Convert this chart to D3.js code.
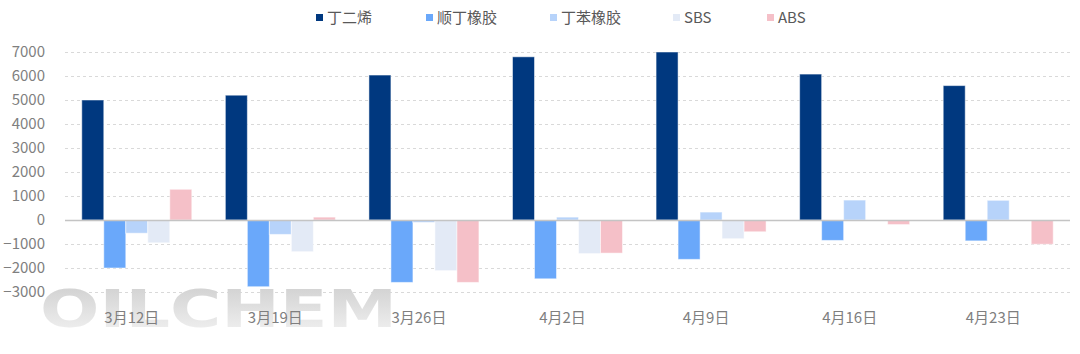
<!DOCTYPE html>
<html>
<head>
<meta charset="utf-8">
<script src="https://cdn.jsdelivr.net/npm/d3@7"></script>
<style>
  body { margin: 0; background: #fff; }
  svg text { font-family: "Noto Sans CJK SC", "Noto Sans", sans-serif; }
</style>
</head>
<body>
<svg id="chart"></svg>
<script>
// data
const categories = ["3月12日", "3月19日", "3月26日", "4月2日", "4月9日", "4月16日", "4月23日"];
const seriesNames = ["丁二烯", "顺丁橡胶", "丁苯橡胶", "SBS", "ABS"];
const butadiene = [5000, 5200, 6040, 6800, 7000, 6080, 5600];
const brRubber  = [-2000, -2780, -2600, -2450, -1640, -850, -870];
const sbrRubber = [-550, -600, -100, 120, 330, 830, 820];
const sbs       = [-950, -1320, -2110, -1400, -780, -10, 0];
const abs       = [1280, 120, -2600, -1380, -490, -190, -1010];
const yTicks = [7000, 6000, 5000, 4000, 3000, 2000, 1000, 0, -1000, -2000, -3000];
const colors = ["#00387f", "#6aa8fa", "#b7d3fa", "#e3eaf6", "#f5c0c8"];

const seriesValues = [butadiene, brRubber, sbrRubber, sbs, abs];
const dataset = categories.map((c, i) => ({
  cat: c,
  values: seriesNames.map((s, j) => ({ key: s, value: seriesValues[j][i], color: colors[j] }))
}));

const width = 1080;
const height = 354;
const margin = { top: 52, right: 10, bottom: 62, left: 65 };

const svg = d3.select("#chart")
  .attr("width", width)
  .attr("height", height);

const xScale = d3.scaleBand()
  .domain(categories)
  .range([margin.left, 1070]);

const barW = 22;
const x1 = d3.scaleBand()
  .domain(seriesNames)
  .range([0, barW * seriesNames.length]);
const groupPad = (xScale.bandwidth() - barW * seriesNames.length) / 2;

const yScale = d3.scaleLinear()
  .domain([-3000, 7000])
  .range([292, 52]);

// grid lines
svg.append("g")
  .selectAll("line")
  .data(yTicks.filter(d => d !== 0))
  .enter()
  .append("line")
  .attr("x1", margin.left)
  .attr("x2", 1070)
  .attr("y1", d => yScale(d) + 0.5)
  .attr("y2", d => yScale(d) + 0.5)
  .attr("stroke", "#d9d9d9")
  .attr("stroke-width", 1)
  .attr("stroke-dasharray", "3,3");

// watermark
const defs = svg.append("defs");
const grad = defs.append("linearGradient")
  .attr("id", "wm")
  .attr("x1", 0).attr("y1", 0).attr("x2", 0).attr("y2", 1);
grad.append("stop").attr("offset", "0%").attr("stop-color", "#cdcdcd");
grad.append("stop").attr("offset", "100%").attr("stop-color", "#f4f4f4");

svg.append("text")
  .attr("x", 40)
  .attr("y", 327)
  .attr("textLength", 357)
  .attr("lengthAdjust", "spacingAndGlyphs")
  .style("font-family", "'DejaVu Sans', sans-serif")
  .style("font-weight", "bold")
  .style("font-size", "52px")
  .attr("fill", "url(#wm)")
  .text("OILCHEM");

// y axis labels
const yAxis = d3.axisLeft(yScale)
  .tickValues(yTicks)
  .tickFormat(d3.format("d"))
  .tickSize(0)
  .tickPadding(0);
svg.append("g")
  .attr("transform", "translate(45, 0)")
  .call(yAxis)
  .call(g => g.select(".domain").remove())
  .call(g => g.selectAll("text")
    .attr("fill", "#7f7f7f")
    .style("font-size", "15px")
    .style("font-family", "'Noto Sans CJK SC', sans-serif"));

// bars
const groups = svg.selectAll(".grp")
  .data(dataset)
  .enter()
  .append("g")
  .attr("class", "grp")
  .attr("transform", d => "translate(" + (xScale(d.cat) + groupPad) + ",0)");

groups.selectAll("rect")
  .data(d => d.values)
  .enter()
  .append("rect")
  .attr("x", d => x1(d.key))
  .attr("width", x1.bandwidth())
  .attr("y", d => yScale(Math.max(0, d.value)))
  .attr("height", d => Math.abs(yScale(d.value) - yScale(0)))
  .attr("fill", d => d.color)
  .attr("stroke", "rgba(255,255,255,0.5)")
  .attr("stroke-width", 1);

// zero line
svg.append("line")
  .attr("x1", margin.left)
  .attr("x2", 1070)
  .attr("y1", yScale(0) + 0.5)
  .attr("y2", yScale(0) + 0.5)
  .attr("stroke", "#c4c4c4")
  .attr("stroke-width", 1.5);

// x axis labels
const xAxis = d3.axisBottom(xScale).tickSize(0).tickPadding(0);
svg.append("g")
  .attr("transform", "translate(-5, 312)")
  .call(xAxis)
  .call(g => g.select(".domain").remove())
  .call(g => g.selectAll("text")
    .attr("fill", "#7f7f7f")
    .style("font-size", "15px")
    .style("font-family", "'Noto Sans CJK SC', sans-serif"));

// legend
const legendX = [316, 426, 550, 673, 767];
const legend = svg.selectAll(".legend")
  .data(seriesNames)
  .enter()
  .append("g")
  .attr("class", "legend")
  .attr("transform", (d, i) => "translate(" + legendX[i] + ",18)");

legend.append("rect")
  .attr("x", 0)
  .attr("y", -4)
  .attr("width", 7)
  .attr("height", 7)
  .attr("fill", (d, i) => colors[i]);

legend.append("text")
  .attr("x", 11)
  .attr("y", 0)
  .attr("dy", "0.35em")
  .attr("fill", "#595959")
  .style("font-size", "15px")
  .text(d => d);
</script>
</body>
</html>
